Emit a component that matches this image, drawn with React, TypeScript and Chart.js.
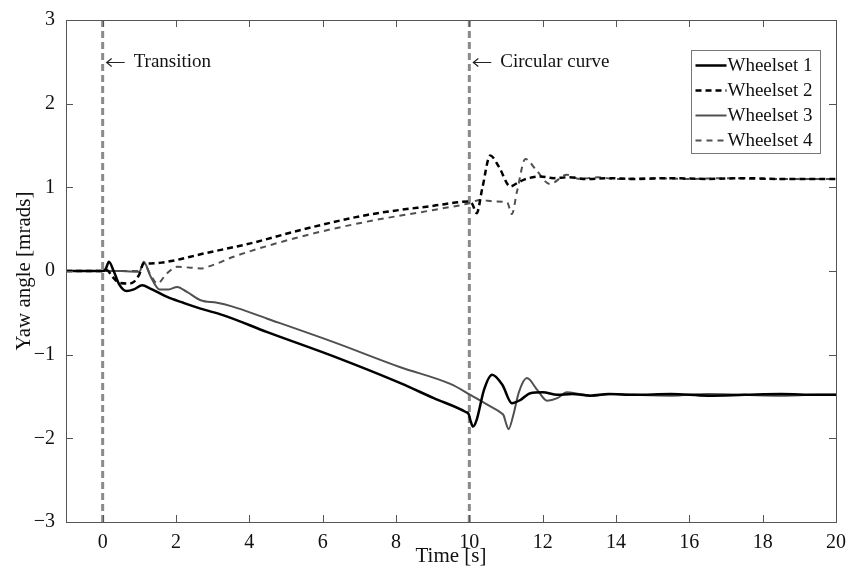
import React, { useEffect, useRef } from 'react';
import { Chart, registerables } from 'chart.js';

Chart.register(...registerables);

const xTicks = [0, 2, 4, 6, 8, 10, 12, 14, 16, 18, 20];
const yTicks = [-3, -2, -1, 0, 1, 2, 3];
const seriesNames = ['Wheelset 1', 'Wheelset 2', 'Wheelset 3', 'Wheelset 4'];

const t1 = [-1, 0, 0.08, 0.17, 0.3, 0.45, 0.65, 0.85, 1.08, 1.3, 1.76, 2.2, 2.67, 3.3, 4.49, 6.3, 8.12, 9.03, 9.9, 9.98, 10.04, 10.1, 10.2, 10.4, 10.62, 10.9, 11.16, 11.4, 11.66, 12.0, 12.4, 12.8, 13.3, 13.8, 14.5, 15.5, 16.5, 17.5, 18.5, 19.5, 20];
const w1 = [0, 0, 0.02, 0.11, 0.0, -0.16, -0.24, -0.22, -0.17, -0.21, -0.31, -0.38, -0.45, -0.53, -0.73, -1.02, -1.34, -1.52, -1.685, -1.71, -1.8, -1.86, -1.78, -1.42, -1.24, -1.36, -1.58, -1.54, -1.46, -1.45, -1.48, -1.47, -1.49, -1.47, -1.48, -1.47, -1.49, -1.48, -1.47, -1.48, -1.48];

const t2 = [-1, 0, 0.12, 0.25, 0.45, 0.7, 0.85, 1.0, 1.12, 1.3, 1.6, 2.0, 2.67, 4.03, 5.4, 7.21, 9.03, 9.98, 10.08, 10.2, 10.35, 10.57, 10.8, 11.12, 11.3, 11.48, 11.93, 12.3, 12.7, 13.2, 13.8, 14.5, 15.5, 16.5, 17.5, 18.5, 19.5, 20];
const w2 = [0, 0, 0.01, -0.06, -0.14, -0.15, -0.13, -0.04, 0.09, 0.09, 0.1, 0.13, 0.2, 0.33, 0.49, 0.67, 0.78, 0.83, 0.8, 0.69, 0.98, 1.38, 1.25, 1.01, 1.05, 1.09, 1.13, 1.11, 1.12, 1.1, 1.11, 1.1, 1.11, 1.1, 1.11, 1.1, 1.1, 1.1];

const t3 = [-1, 0, 0.5, 1.0, 1.12, 1.3, 1.55, 1.8, 2.03, 2.3, 2.67, 3.12, 3.5, 4.49, 6.3, 8.12, 9.48, 10.03, 10.5, 10.88, 10.94, 11.0, 11.07, 11.2, 11.35, 11.57, 11.85, 12.12, 12.4, 12.66, 13.0, 13.4, 13.9, 14.5, 15.5, 16.5, 17.5, 18.5, 19.5, 20];
const w3 = [0, 0, 0, -0.01, 0.11, -0.06, -0.22, -0.22, -0.19, -0.25, -0.35, -0.38, -0.42, -0.57, -0.85, -1.15, -1.35, -1.48, -1.6, -1.7, -1.73, -1.82, -1.89, -1.72, -1.45, -1.28, -1.42, -1.55, -1.52, -1.45, -1.47, -1.49, -1.47, -1.48, -1.49, -1.47, -1.48, -1.49, -1.48, -1.48];

const t4 = [-1, 0, 1.0, 1.12, 1.3, 1.49, 1.75, 2.03, 2.4, 2.67, 3.0, 3.57, 5.4, 7.21, 9.03, 10.0, 10.3, 10.7, 11.03, 11.16, 11.3, 11.53, 11.8, 12.2, 12.66, 13.0, 13.5, 14.0, 15, 16, 17, 18, 19, 20];
const w4 = [0, 0, 0, 0.09, -0.04, -0.15, -0.03, 0.05, 0.04, 0.03, 0.07, 0.17, 0.41, 0.59, 0.73, 0.81, 0.85, 0.83, 0.82, 0.68, 0.95, 1.34, 1.22, 1.04, 1.15, 1.1, 1.12, 1.1, 1.11, 1.1, 1.11, 1.1, 1.1, 1.1];

const markerTimes = [0, 10];
const markerLabels = ['Transition', 'Circular curve'];
const markerLabelY = 2.5;

const SERIF = '"Liberation Serif", "Times New Roman", serif';

function pts(t: number[], v: number[]) {
  return t.map((x, i) => ({ x, y: v[i] }));
}

const styles = [
  { color: '#000000', width: 2.5, dash: [] as number[] },
  { color: '#000000', width: 2.5, dash: [6, 4] },
  { color: '#505050', width: 2, dash: [] as number[] },
  { color: '#505050', width: 2, dash: [6, 5] },
];

const framePlugin = {
  id: 'frameAndLegend',
  afterDatasetsDraw(chart: any) {
    const { ctx, chartArea: a, scales } = chart;
    const xs = scales.x;
    const ys = scales.y;
    ctx.save();
    ctx.strokeStyle = '#555';
    ctx.lineWidth = 1;
    ctx.setLineDash([]);
    ctx.strokeRect(Math.round(a.left) + 0.5, Math.round(a.top) + 0.5, Math.round(a.right - a.left), Math.round(a.bottom - a.top));
    ctx.beginPath();
    for (const v of xTicks) {
      const px = Math.round(xs.getPixelForValue(v)) + 0.5;
      ctx.moveTo(px, a.bottom);
      ctx.lineTo(px, a.bottom - 7);
      ctx.moveTo(px, a.top);
      ctx.lineTo(px, a.top + 7);
    }
    for (const v of yTicks) {
      const py = Math.round(ys.getPixelForValue(v)) + 0.5;
      ctx.moveTo(a.left, py);
      ctx.lineTo(a.left + 7, py);
      ctx.moveTo(a.right, py);
      ctx.lineTo(a.right - 7, py);
    }
    ctx.stroke();

    // marker annotations
    markerTimes.forEach((m, i) => {
      const px = xs.getPixelForValue(m);
      const py = Math.round(ys.getPixelForValue(markerLabelY)) + 0.5;
      ctx.strokeStyle = '#222';
      ctx.lineWidth = 1.2;
      ctx.beginPath();
      ctx.moveTo(px + 22, py);
      ctx.lineTo(px + 4, py);
      ctx.moveTo(px + 9, py - 4);
      ctx.lineTo(px + 4, py);
      ctx.lineTo(px + 9, py + 4);
      ctx.stroke();
      ctx.fillStyle = '#111';
      ctx.textBaseline = 'middle';
      ctx.textAlign = 'left';
      ctx.font = '19px ' + SERIF;
      ctx.fillText(markerLabels[i], px + 31, py);
    });

    // legend
    const bx = Math.round(a.right - 145) + 0.5;
    const by = Math.round(a.top + 30) + 0.5;
    const bw = 129;
    const bh = 103;
    ctx.fillStyle = '#fff';
    ctx.fillRect(bx, by, bw, bh);
    ctx.strokeStyle = '#777';
    ctx.lineWidth = 1;
    ctx.strokeRect(bx, by, bw, bh);
    seriesNames.forEach((name, i) => {
      const ry = by + 15 + i * 25;
      const s = styles[i];
      ctx.beginPath();
      ctx.strokeStyle = s.color;
      ctx.lineWidth = s.width;
      ctx.setLineDash(s.dash);
      ctx.moveTo(bx + 4, ry);
      ctx.lineTo(bx + 35, ry);
      ctx.stroke();
      ctx.setLineDash([]);
      ctx.fillStyle = '#111';
      ctx.font = '19px ' + SERIF;
      ctx.textBaseline = 'middle';
      ctx.textAlign = 'left';
      ctx.fillText(name, bx + 36, ry + 1);
    });
    ctx.restore();
  },
};

export default function App() {
  const ref = useRef<HTMLCanvasElement | null>(null);

  useEffect(() => {
    if (!ref.current) return;
    const series = [pts(t1, w1), pts(t2, w2), pts(t3, w3), pts(t4, w4)];
    const datasets: any[] = series.map((data, i) => ({
      label: seriesNames[i],
      data,
      borderColor: styles[i].color,
      borderWidth: styles[i].width,
      borderDash: styles[i].dash,
      pointRadius: 0,
      fill: false,
      cubicInterpolationMode: 'monotone',
      borderCapStyle: 'butt',
    }));
    markerTimes.forEach((m) => {
      datasets.push({
        label: 'marker',
        data: [
          { x: m, y: yTicks[0] },
          { x: m, y: yTicks[yTicks.length - 1] },
        ],
        borderColor: '#8a8a8a',
        borderWidth: 3,
        borderDash: [7, 4],
        pointRadius: 0,
        tension: 0,
        fill: false,
      });
    });

    const chart = new Chart(ref.current, {
      type: 'line',
      data: { datasets },
      plugins: [framePlugin],
      options: {
        responsive: false,
        animation: false,
        layout: { padding: { left: 10, right: 15, top: 20, bottom: 0 } },
        plugins: { legend: { display: false }, tooltip: { enabled: false } },
        scales: {
          x: {
            type: 'linear',
            min: -1,
            max: 20,
            afterBuildTicks: (s: any) => {
              s.ticks = xTicks.map((v) => ({ value: v }));
            },
            afterFit: (s: any) => {
              s.height = 47;
            },
            grid: { display: false },
            border: { display: false },
            ticks: {
              color: '#111',
              font: { family: SERIF, size: 20 },
              padding: 1,
              maxRotation: 0,
              autoSkip: false,
            },
            title: {
              display: true,
              text: 'Time [s]',
              color: '#111',
              font: { family: SERIF, size: 21 },
              padding: { top: 0, bottom: 0 },
            },
          },
          y: {
            type: 'linear',
            min: -3,
            max: 3,
            afterBuildTicks: (s: any) => {
              s.ticks = yTicks.map((v) => ({ value: v }));
            },
            afterFit: (s: any) => {
              s.width = 56;
            },
            grid: { display: false },
            border: { display: false },
            ticks: {
              color: '#111',
              font: { family: SERIF, size: 20 },
              padding: 3,
              callback: (v: any) => String(v).replace('-', '\u2212'),
            },
            title: {
              display: true,
              text: 'Yaw angle [mrads]',
              color: '#111',
              font: { family: SERIF, size: 21 },
              padding: { top: 2, bottom: 0 },
            },
          },
        },
      } as any,
    });
    return () => chart.destroy();
  }, []);

  return (
    <div style={{ position: 'absolute', left: 0, top: 0, width: 851, height: 569, background: '#fff' }}>
      <canvas ref={ref} width={851} height={569} style={{ width: 851, height: 569, display: 'block' }} />
    </div>
  );
}
